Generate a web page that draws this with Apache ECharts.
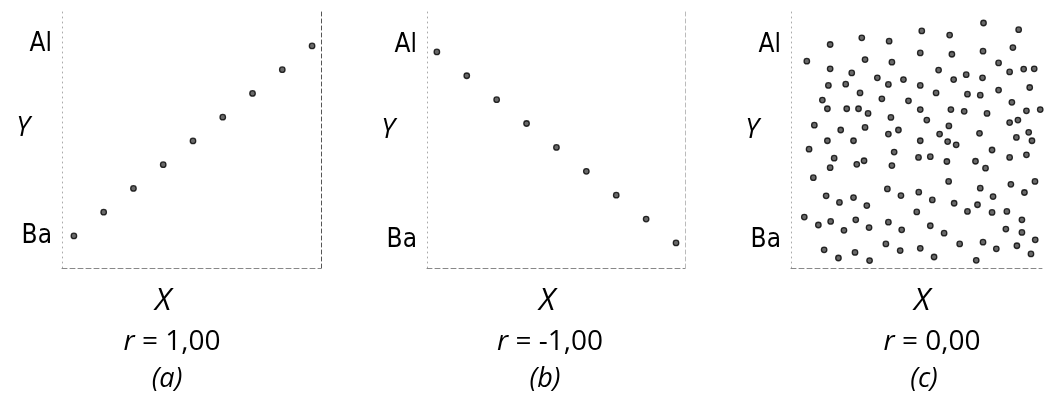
<!DOCTYPE html>
<html>
<head>
<meta charset="utf-8">
<script src="https://cdn.jsdelivr.net/npm/echarts@6/dist/echarts.min.js"></script>
<style>
  html, body { margin: 0; padding: 0; background: #fff; }
  #chart { width: 1047px; height: 394px; }
</style>
</head>
<body>
<div id="chart"></div>
<script>
// panel (a) and (b): nine evenly spaced points
var xLine = [1, 2, 3, 4, 5, 6, 7, 8, 9];
var yUp = [1, 2, 3, 4, 5, 6, 7, 8, 9];
var yDown = [9, 8, 7, 6, 5, 4, 3, 2, 1];

// panel (c): cloud of points (0..100 both ways)
var cloudX = [76.7, 52.1, 63.2, 90.7, 28.2, 39.1, 15.6, 51.5, 64.1, 76.5, 88.4, 6.3, 29.5, 40.2, 82.7,
    15.6, 58.8, 87.1, 92.7, 96.9, 24.2, 34.4, 44.8, 38.8, 51.5, 64.8, 69.8, 76.3, 14.9, 21.8,
    27.5, 57.8, 70.3, 75.4, 82.7, 95.1, 12.5, 36.2, 46.8, 88.0, 14.5, 22.2, 26.9, 30.7, 39.8,
    51.5, 63.7, 69.0, 78.1, 93.8, 99.3, 9.3, 19.8, 29.5, 38.8, 42.8, 54.1, 62.9, 59.2, 75.1,
    87.1, 90.4, 89.8, 94.7, 96.0, 7.2, 14.5, 24.9, 51.5, 62.4, 65.8, 80.1, 17.2, 15.6, 26.2,
    29.1, 41.1, 40.2, 50.8, 55.5, 62.1, 73.5, 77.5, 87.1, 93.8, 8.9, 62.8, 75.4, 87.6, 97.2,
    14.0, 24.9, 19.3, 30.2, 38.4, 43.8, 50.9, 56.3, 65.0, 70.3, 74.3, 80.5, 93.0, 50.1, 80.1,
    86.0, 5.3, 10.9, 15.8, 21.1, 25.8, 31.1, 38.8, 44.1, 55.5, 61.0, 85.6, 92.0, 92.0, 13.2,
    18.9, 25.5, 31.3, 37.8, 43.5, 51.5, 57.0, 67.2, 73.8, 76.5, 81.8, 90.0, 97.3, 95.6];
var cloudY = [95.7, 92.6, 91.0, 93.1, 89.9, 88.6, 87.3, 84.0, 83.5, 84.7, 86.1, 80.8, 81.4, 80.4, 80.1,
    77.8, 77.3, 76.6, 77.7, 77.8, 76.2, 74.3, 73.6, 71.7, 71.3, 73.6, 75.5, 74.3, 71.3, 71.8,
    68.4, 68.4, 67.9, 67.5, 69.5, 70.5, 65.6, 66.1, 65.3, 64.7, 62.2, 62.2, 62.2, 60.4, 58.8,
    61.9, 61.9, 61.2, 60.4, 61.4, 61.9, 55.8, 53.9, 54.9, 52.3, 53.9, 57.8, 55.5, 52.3, 52.6,
    56.8, 57.8, 51.0, 53.0, 49.7, 46.4, 49.7, 49.7, 49.7, 49.4, 48.1, 46.1, 42.9, 39.2, 40.5,
    41.9, 45.3, 40.0, 43.2, 43.5, 41.6, 41.7, 39.0, 43.2, 44.2, 35.3, 33.8, 31.2, 32.7, 33.8,
    28.2, 27.5, 25.6, 24.4, 30.9, 28.3, 29.6, 26.6, 25.3, 22.1, 24.7, 27.9, 29.5, 21.9, 21.7,
    22.1, 19.9, 16.8, 18.2, 14.7, 18.8, 15.8, 17.9, 14.9, 16.5, 13.6, 15.2, 18.8, 13.9, 7.1,
    3.9, 6.1, 2.9, 9.4, 6.8, 7.7, 4.3, 9.4, 3.0, 10.1, 7.5, 8.7, 11.0, 5.5];

// y-axis word labels and where they sit on each panel's scale
var yWords = ['Ba', 'Y', 'Al'];
var yTicksA = [1, 5.55, 9.08];
var yTicksB = [1.13, 5.73, 9.29];
var yTicksC = [11.0, 53.9, 87.0];

var rValues = ['1,00', '-1,00', '0,00'];
var panelTags = ['a', 'b', 'c'];

function pairs(xs, ys) {
    var out = [];
    for (var i = 0; i < xs.length; i++) out.push([xs[i], ys[i]]);
    return out;
}

var dotStyle = { color: '#444', borderColor: '#000', borderWidth: 1.3 };

function yLabel(ticks) {
    return {
        show: true,
        customValues: ticks,
        margin: 10,
        formatter: function (v) {
            for (var i = 0; i < ticks.length; i++) {
                if (Math.abs(ticks[i] - v) < 1e-6) {
                    return yWords[i] == 'Y' ? '{y|Y}' : '{n|' + yWords[i] + '}';
                }
            }
            return '';
        },
        rich: {
            n: { fontFamily: '"DejaVu Sans Condensed", "Liberation Sans"', fontSize: 26, color: '#000', letterSpacing: -2 },
            y: { fontFamily: '"Open Sans"', fontStyle: 'italic', fontSize: 27, color: '#000', padding: [0, 22, 0, 0] }
        }
    };
}

function leftAxis(grid, min, max, ticks) {
    return {
        type: 'value', gridIndex: grid, min: min, max: max, position: 'left',
        axisLine: { show: true, onZero: false, lineStyle: { color: '#aaa', type: [1, 4], width: 1 } },
        axisTick: { show: false }, splitLine: { show: false },
        axisLabel: yLabel(ticks)
    };
}

function rightAxis(grid, min, max, col) {
    return {
        type: 'value', gridIndex: grid, min: min, max: max, position: 'right',
        axisLine: { show: true, onZero: false, lineStyle: { color: col, type: [4, 3], width: 1 } },
        axisTick: { show: false }, splitLine: { show: false }, axisLabel: { show: false }
    };
}

function bottomAxis(grid, min, max) {
    return {
        type: 'value', gridIndex: grid, min: min, max: max, position: 'bottom',
        axisLine: { show: true, onZero: false, lineStyle: { color: '#888', type: [5, 3], width: 1 } },
        axisTick: { show: false }, splitLine: { show: false }, axisLabel: { show: false }
    };
}

var textCentres = [[163, 172, 167], [547, 550, 545], [922, 932, 924]];
var graphics = [];
for (var p = 0; p < 3; p++) {
    var c = textCentres[p];
    graphics.push({
        type: 'text', x: c[0], y: 301,
        style: { text: 'X', fontFamily: '"Open Sans"', fontStyle: 'italic', fontSize: 31,
            fill: '#000', align: 'center', verticalAlign: 'middle' }
    });
    graphics.push({
        type: 'text', x: c[1], y: 342,
        style: {
            text: '{i|r}{n| = ' + rValues[p] + '}',
            align: 'center', verticalAlign: 'middle',
            rich: {
                i: { fontFamily: '"Open Sans"', fontStyle: 'italic', fontSize: 28, fill: '#000' },
                n: { fontFamily: '"Open Sans"', fontSize: 28, fill: '#000' }
            }
        }
    });
    graphics.push({
        type: 'text', x: c[2], y: 379,
        style: { text: '(' + panelTags[p] + ')', fontFamily: '"Open Sans"', fontStyle: 'italic', fontSize: 27,
            fill: '#000', align: 'center', verticalAlign: 'middle' }
    });
}

var chart = echarts.init(document.getElementById('chart'));
var option = {
    backgroundColor: '#fff',
    animation: false,
    grid: [
        { left: 62, right: 726, top: 12, bottom: 126 },
        { left: 427, right: 362, top: 12, bottom: 126 },
        { left: 791, right: 5, top: 12, bottom: 126 }
    ],
    xAxis: [
        bottomAxis(0, 0.6, 9.3),
        bottomAxis(1, 0.67, 9.3),
        bottomAxis(2, 0, 100)
    ],
    yAxis: [
        leftAxis(0, -0.35, 10.43, yTicksA),
        leftAxis(1, -0.05, 10.67, yTicksB),
        leftAxis(2, 0, 100, yTicksC),
        rightAxis(0, -0.35, 10.43, '#555'),
        rightAxis(1, -0.05, 10.67, '#bbb')
    ],
    series: [
        { type: 'scatter', xAxisIndex: 0, yAxisIndex: 0, symbolSize: 5.5, itemStyle: dotStyle, data: pairs(xLine, yUp) },
        { type: 'scatter', xAxisIndex: 1, yAxisIndex: 1, symbolSize: 5.5, itemStyle: dotStyle, data: pairs(xLine, yDown) },
        { type: 'scatter', xAxisIndex: 2, yAxisIndex: 2, symbolSize: 5.5, itemStyle: dotStyle, data: pairs(cloudX, cloudY) }
    ],
    graphic: graphics
};
chart.setOption(option);
</script>
</body>
</html>
